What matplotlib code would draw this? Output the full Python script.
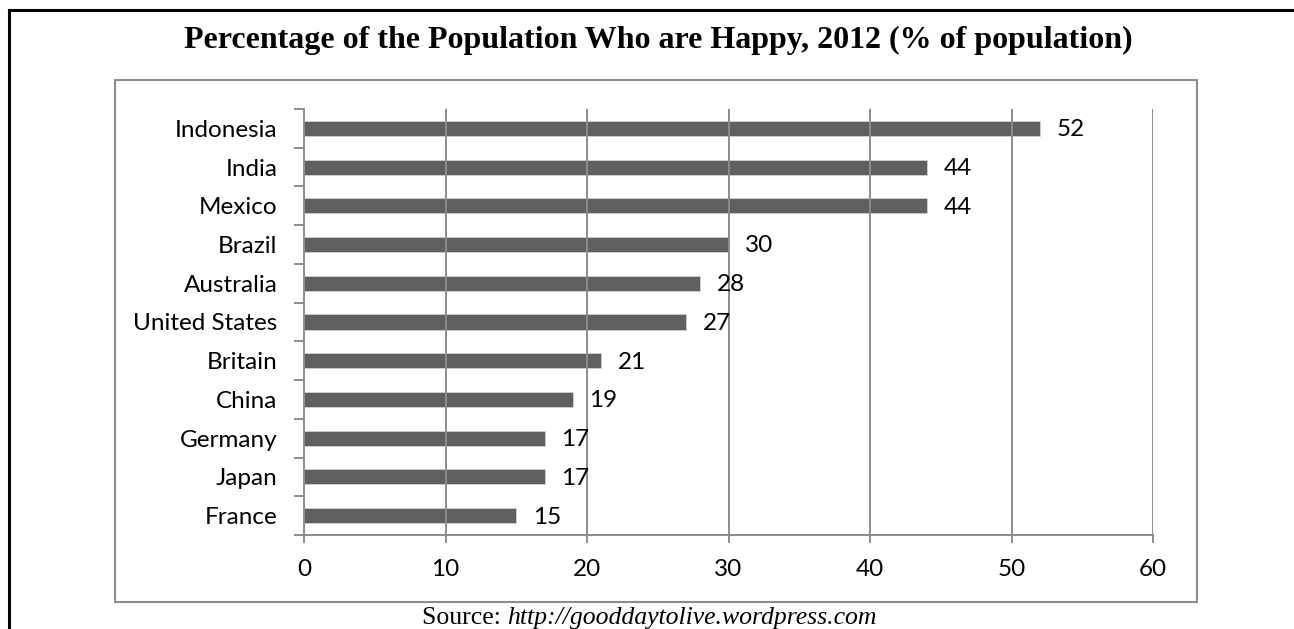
import matplotlib
matplotlib.use("Agg")
import matplotlib.pyplot as plt
from matplotlib.patches import Rectangle
from matplotlib.lines import Line2D

# Share of people describing themselves as happy, 2012
countries = ["Indonesia", "India", "Mexico", "Brazil", "Australia", "United States",
             "Britain", "China", "Germany", "Japan", "France"]
happy_pct = [52, 44, 44, 30, 28, 27, 21, 19, 17, 17, 15]
x_ticks = [0, 10, 20, 30, 40, 50, 60]

W, H = 1294, 629
fig = plt.figure(figsize=(W / 100, H / 100), dpi=100)
fig.patch.set_facecolor("white")


def fx(px):
    return px / W


def fy(py):
    return 1 - py / H


GRAY = "#8c8c8c"
BAR = "#606060"
LABEL_FONT = dict(fontsize=17.5, family="Lato")

# outer black frame (runs off the right and bottom edges)
fig.add_artist(Line2D([fx(9), fx(9)], [fy(10), fy(640)], color="black", lw=2.2,
                      transform=fig.transFigure))
fig.add_artist(Line2D([fx(9), fx(1300)], [fy(10), fy(10)], color="black", lw=2.2,
                      transform=fig.transFigure))

# chart area frame
fig.add_artist(Rectangle((fx(115), fy(602)), fx(1197) - fx(115), fy(80) - fy(602),
                         fill=False, edgecolor=GRAY, lw=1.5, transform=fig.transFigure))

ax = fig.add_axes([fx(304), fy(535), fx(1153) - fx(304), fy(109) - fy(535)])

n = len(countries)
ypos = [n - 1 - i for i in range(n)]
ax.barh(ypos, happy_pct, height=0.39, color=BAR, edgecolor="#d0d0d0", lw=0.6, zorder=2)

for y, v in zip(ypos, happy_pct):
    ax.annotate(f"{v}", xy=(v, y), xytext=(12, -1), textcoords="offset points",
                va="center", ha="left", color="black", zorder=4, **LABEL_FONT)

ax.set_xlim(0, 60)
ax.set_ylim(-0.5, n - 0.5)
ax.set_xticks(x_ticks)
ax.set_xticklabels([str(t) for t in x_ticks], **LABEL_FONT)

ax.set_yticks(ypos)
ax.set_yticklabels(countries, **LABEL_FONT)
ax.set_yticks([i - 0.5 for i in range(n + 1)], minor=True)
ax.tick_params(axis="y", which="major", length=0, pad=19)
ax.tick_params(axis="y", which="minor", length=7, width=1.4, color=GRAY, direction="out")
ax.tick_params(axis="x", which="major", length=6, width=1.4, color=GRAY,
               direction="out", pad=11)

for t in x_ticks[1:]:
    ax.axvline(t, color=GRAY, lw=1.4, zorder=3)

for s in ["top", "right"]:
    ax.spines[s].set_visible(False)
for s in ["left", "bottom"]:
    ax.spines[s].set_color(GRAY)
    ax.spines[s].set_linewidth(1.4)
    ax.spines[s].set_zorder(3)

fig.text(fx(658), fy(48), "Percentage of the Population Who are Happy, 2012 (% of population)",
         ha="center", va="baseline", fontsize=23, fontweight="bold",
         family="Liberation Serif")

# source line: plain prefix followed by an italic URL
src1 = fig.text(fx(422), fy(624), "Source: ", ha="left", va="baseline",
                fontsize=18.5, family="Liberation Serif")
fig.canvas.draw()
bb = src1.get_window_extent()
fig.text(bb.x1 / W, fy(624), "http://gooddaytolive.wordpress.com", ha="left",
         va="baseline", fontsize=18.5, family="Liberation Serif", style="italic")

fig.savefig("out.png", dpi=100, facecolor="white")
